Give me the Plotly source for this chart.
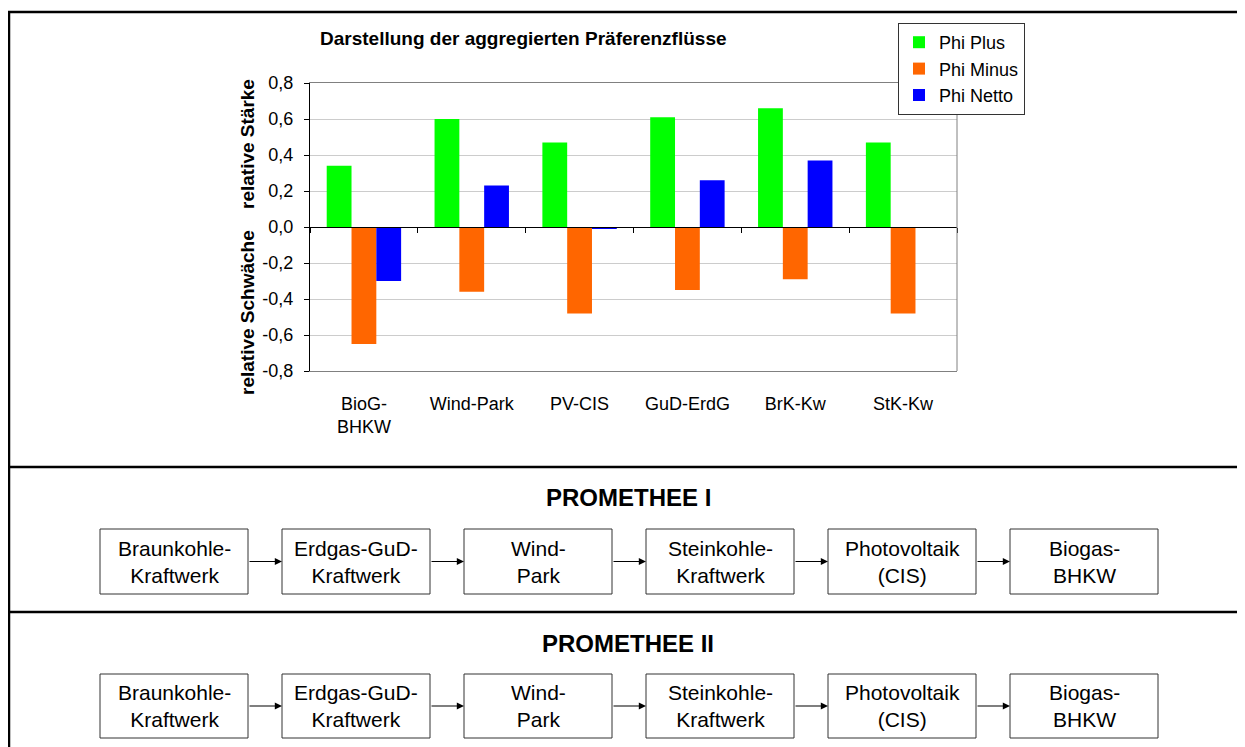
import plotly.graph_objects as go

# ---------------- data ----------------
categories = ["BioG-BHKW", "Wind-Park", "PV-CIS", "GuD-ErdG", "BrK-Kw", "StK-Kw"]
category_labels = ["BioG-<br>BHKW", "Wind-Park", "PV-CIS", "GuD-ErdG", "BrK-Kw", "StK-Kw"]
phi_plus = [0.34, 0.60, 0.47, 0.61, 0.66, 0.47]
phi_minus = [-0.65, -0.36, -0.48, -0.35, -0.29, -0.48]
phi_netto = [-0.30, 0.23, -0.01, 0.26, 0.37, -0.005]
y_tick_vals = [-0.8, -0.6, -0.4, -0.2, 0.0, 0.2, 0.4, 0.6, 0.8]
y_tick_text = ["-0,8", "-0,6", "-0,4", "-0,2", "0,0", "0,2", "0,4", "0,6", "0,8"]
series_names = ["Phi Plus", "Phi Minus", "Phi Netto"]
series_colors = ["#00FF00", "#FF6600", "#0000FF"]

promethee_1 = ["Braunkohle-<br>Kraftwerk", "Erdgas-GuD-<br>Kraftwerk", "Wind-<br>Park",
               "Steinkohle-<br>Kraftwerk", "Photovoltaik<br>(CIS)", "Biogas-<br>BHKW"]
promethee_2 = ["Braunkohle-<br>Kraftwerk", "Erdgas-GuD-<br>Kraftwerk", "Wind-<br>Park",
               "Steinkohle-<br>Kraftwerk", "Photovoltaik<br>(CIS)", "Biogas-<br>BHKW"]

# ---------------- layout geometry (screen pixels of the target) ----------------
OFF = 8                      # page body margin
W, H = 1245 - OFF, 747 - OFF  # figure size so that it fills the window
PL, PR, PT, PB = 310, 957, 83, 371   # plot area in screen pixels
FONT = "Liberation Sans, Arial, sans-serif"


def px(x):
    return (x - PL) / (PR - PL)


def py(y):
    return (PB - y) / (PB - PT)


fig = go.Figure()
for name, vals, col in zip(series_names, [phi_plus, phi_minus, phi_netto], series_colors):
    fig.add_trace(go.Bar(name=name, x=categories, y=vals, marker=dict(color=col, line=dict(width=0))))

# dummy trace so that the zero-line axis (x2) is rendered
fig.add_trace(go.Scatter(x=[None], y=[None], xaxis="x2", showlegend=False, hoverinfo="skip"))

fig.update_layout(
    width=W, height=H,
    margin=dict(l=PL - OFF, r=W - (PR - OFF), t=PT - OFF, b=H - (PB - OFF), autoexpand=False),
    paper_bgcolor="white", plot_bgcolor="white",
    font=dict(family=FONT, size=18, color="black"),
    barmode="group", bargap=0.31, bargroupgap=0,
    showlegend=True,
    legend=dict(x=px(898), y=py(23), xanchor="left", yanchor="top",
                bgcolor="white", bordercolor="#333333", borderwidth=1,
                font=dict(size=18, family=FONT), itemclick=False),
    xaxis=dict(type="category", categoryorder="array", categoryarray=categories,
               tickvals=categories, ticktext=category_labels,
               showline=True, linecolor="#808080", linewidth=1, mirror=True,
               ticks="", showgrid=False, zeroline=False, ticklabelstandoff=16,
               tickfont=dict(size=18)),
    xaxis2=dict(overlaying="x", anchor="free", position=0.5, range=[0, 6],
                tickvals=[0, 1, 2, 3, 4, 5, 6], showticklabels=False,
                ticks="outside", ticklen=5, tickcolor="black", tickwidth=1,
                showline=True, linecolor="black", linewidth=1,
                showgrid=False, zeroline=False),
    yaxis=dict(range=[-0.8, 0.8], tickvals=y_tick_vals, ticktext=y_tick_text,
               showline=True, linecolor="black", linewidth=1,
               ticks="outside", ticklen=5, tickcolor="black",
               showgrid=True, gridcolor="#CCCCCC", gridwidth=1, zeroline=False,
               ticklabelstandoff=7, tickfont=dict(size=18)),
)

shapes = []
annotations = []

# right border of plot area
shapes.append(dict(type="line", xref="x domain", yref="y domain", x0=1, x1=1, y0=0, y1=1,
                   line=dict(color="#808080", width=1)))

# outer frame and section separators
shapes.append(dict(type="rect", xref="paper", yref="paper", x0=px(9), x1=px(1270), y0=py(12), y1=py(780),
                   line=dict(color="black", width=2.5), layer="below"))
for ysep in [467, 612]:
    shapes.append(dict(type="line", xref="paper", yref="paper", x0=px(9), x1=px(1270), y0=py(ysep), y1=py(ysep),
                       line=dict(color="black", width=2.5)))

# chart title and axis titles
annotations.append(dict(text="<b>Darstellung der aggregierten Präferenzflüsse</b>", xref="paper", yref="paper",
                        x=px(523), y=py(38), showarrow=False, xanchor="center", yanchor="middle",
                        font=dict(size=19, family=FONT)))
annotations.append(dict(text="<b>relative Stärke</b>", xref="paper", yref="paper", x=px(247), y=py(144),
                        showarrow=False, textangle=-90, xanchor="center", yanchor="middle",
                        font=dict(size=19, family=FONT)))
annotations.append(dict(text="<b>relative Schwäche</b>", xref="paper", yref="paper", x=px(247), y=py(313),
                        showarrow=False, textangle=-90, xanchor="center", yanchor="middle",
                        font=dict(size=19, family=FONT)))

# flow diagrams
BOX_X0, BOX_W, BOX_STEP = 100, 148, 182
sections = [("PROMETHEE I", promethee_1, 497, 529, 594), ("PROMETHEE II", promethee_2, 643, 674, 738)]
for title, ranking, ty, by0, by1 in sections:
    annotations.append(dict(text=f"<b>{title}</b>", xref="paper", yref="paper", x=px(628), y=py(ty),
                            showarrow=False, xanchor="center", yanchor="middle",
                            font=dict(size=24, family=FONT)))
    ymid = (by0 + by1) / 2
    for i, label in enumerate(ranking):
        x0 = BOX_X0 + i * BOX_STEP
        x1 = x0 + BOX_W
        shapes.append(dict(type="rect", xref="paper", yref="paper", x0=px(x0), x1=px(x1), y0=py(by0), y1=py(by1),
                           line=dict(color="#333333", width=1), fillcolor="white"))
        annotations.append(dict(text=label, xref="paper", yref="paper", x=px((x0 + x1) / 2), y=py(ymid),
                                showarrow=False, xanchor="center", yanchor="middle",
                                font=dict(size=21, family=FONT)))
        if i < len(ranking) - 1:
            nx0 = BOX_X0 + (i + 1) * BOX_STEP
            annotations.append(dict(text="", xref="paper", yref="paper", x=px(nx0), y=py(ymid),
                                    ax=-(nx0 - x1), ay=0, showarrow=True, arrowhead=2,
                                    arrowsize=1.2, arrowwidth=1.2, arrowcolor="black"))

fig.update_layout(shapes=shapes, annotations=annotations)
fig.write_html("out.html")
